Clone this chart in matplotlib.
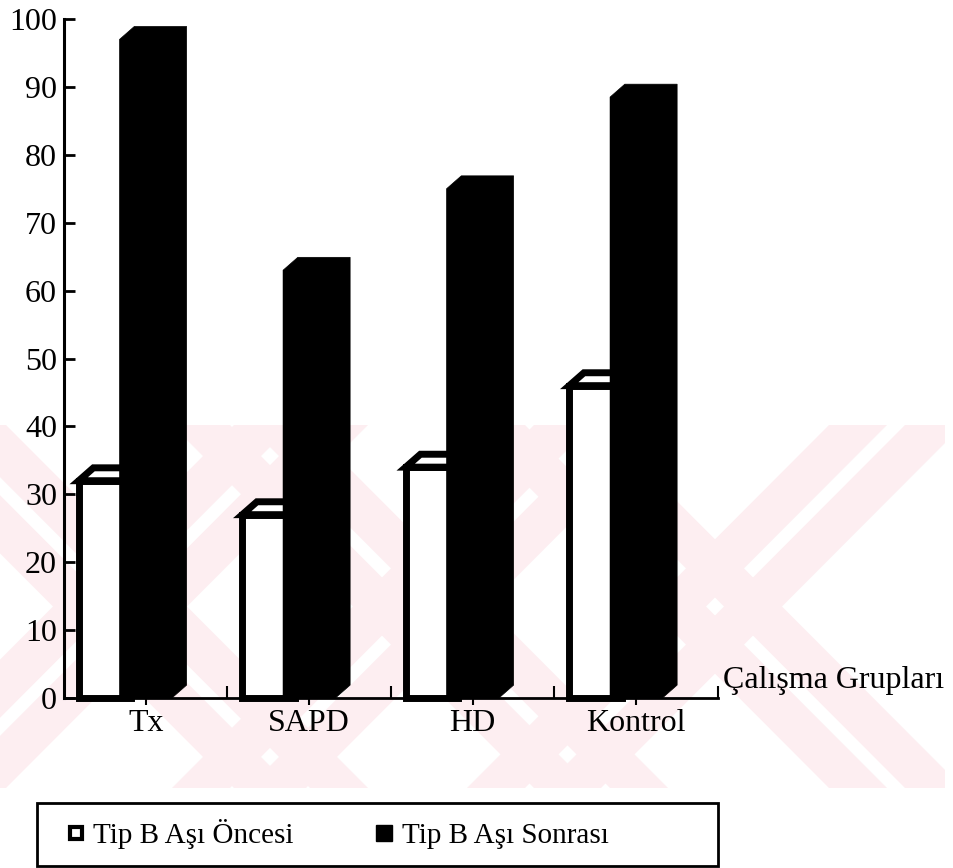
# -*- coding:utf-8 -*-
import numpy as np
import matplotlib
matplotlib.use("Agg")
from matplotlib import pyplot as plt
from matplotlib.patches import Polygon, Rectangle
from matplotlib.lines import Line2D

# veriler
kategoriler = ["Tx", "SAPD", "HD", "Kontrol"]
asi_oncesi = [32, 27, 34, 46]
asi_sonrasi = [97, 63, 75, 88.5]
y_ticks = [0, 10, 20, 30, 40, 50, 60, 70, 80, 90, 100]
seri_adlari = ["Tip B Aşı Öncesi", "Tip B Aşı Sonrası"]
eksen_adi = "Çalışma Grupları"

W, H = 954, 868
plt.rcParams['font.family'] = ['Liberation Serif', 'DejaVu Serif']


def px(x, y):
    """piksel -> figure koordinatı"""
    return x / W, 1 - y / H


fig = plt.figure(figsize=(W / 100, H / 100), dpi=100)

# arka plandaki pembe filigran (yaklaşık)
pembe = "#fdeef1"
clip = Rectangle(px(0, 788), 945 / W, 363 / H, transform=fig.transFigure)
y0, y1 = 425, 788
for cx in [120, 420, 715]:
    for xa, xb in [(cx - 181, cx + 181), (cx + 181, cx - 181)]:
        for off in [-38, 38]:
            pts = [px(xa + off - 29, y0), px(xa + off + 29, y0),
                   px(xb + off + 29, y1), px(xb + off - 29, y1)]
            p = Polygon(pts, closed=True, transform=fig.transFigure,
                        facecolor=pembe, edgecolor="none", zorder=-5)
            p.set_clip_path(clip)
            fig.add_artist(p)

ax = fig.add_axes([64 / W, 1 - 698 / H, 654 / W, 679 / H])
ax.set_facecolor("none")
ax.set_xlim(-0.5, 3.5)
ax.set_ylim(0, 100)

x = np.arange(len(kategoriler))
w = 0.32
dx, dy = 0.09, 1.9  # 3B derinlik

# beyaz sütunlar (aşı öncesi)
ax.bar(x - 0.25, asi_oncesi, width=w, color="white", edgecolor="black",
       linewidth=5, zorder=3, clip_on=False)
for xi, h in zip(x - 0.25, asi_oncesi):
    l, r = xi - w / 2, xi + w / 2
    ax.add_patch(Polygon([(l, h), (l + dx, h + dy), (r + dx, h + dy), (r, h)],
                         closed=True, facecolor="white", edgecolor="black",
                         linewidth=5, zorder=3, clip_on=False))

# siyah sütunlar (aşı sonrası)
ax.bar(x, asi_sonrasi, width=w, color="black", zorder=4, clip_on=False)
for xi, h in zip(x, asi_sonrasi):
    l, r = xi - w / 2, xi + w / 2
    ax.add_patch(Polygon([(l, 0), (l, h), (l + dx, h + dy), (r + dx, h + dy),
                          (r + dx, dy), (r, 0)],
                         closed=True, facecolor="black", edgecolor="black",
                         linewidth=0.5, zorder=4, clip_on=False))

# eksenler
for s in ["top", "right"]:
    ax.spines[s].set_visible(False)
ax.spines["left"].set_linewidth(2.2)
ax.spines["bottom"].set_linewidth(2)

ax.set_yticks(y_ticks)
ax.tick_params(axis="y", direction="in", length=8, width=2, labelsize=23, pad=5)
ax.set_xticks([0.5, 1.5, 2.5, 3.5])
ax.set_xticklabels([])
ax.tick_params(axis="x", which="major", direction="in", length=9, width=1.5)
ax.set_xticks(x, kategoriler, minor=True)
ax.tick_params(axis="x", which="minor", direction="out", length=5, width=1.5,
               labelsize=23, pad=3)

fig.text(*px(723, 688), eksen_adi, fontsize=23, va="baseline", ha="left")

# lejant
handles = [
    Line2D([], [], marker="s", ls="none", markersize=8, markerfacecolor="white",
           markeredgecolor="black", markeredgewidth=3),
    Line2D([], [], marker="s", ls="none", markersize=11.5, markerfacecolor="black",
           markeredgecolor="black"),
]
fig.legend(handles, seri_adlari, ncol=2, loc="center left",
           bbox_to_anchor=px(61, 834), frameon=False, fontsize=21,
           borderpad=0, handlelength=1.0, handletextpad=0.1,
           columnspacing=2.6, borderaxespad=0)
fig.add_artist(Rectangle(px(37, 866), 681 / W, 63 / H, transform=fig.transFigure,
                         fill=False, edgecolor="black", linewidth=2))

plt.savefig("out.png", dpi=100)
